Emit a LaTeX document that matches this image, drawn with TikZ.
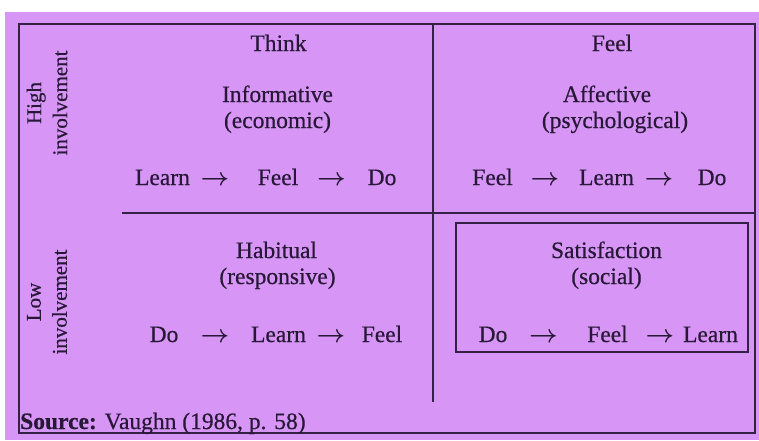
\documentclass[tikz,border=0pt]{standalone}
\usepackage{bm}
\usepackage{fontspec}
\setmainfont{Liberation Serif}[FakeBold=0.5]
\definecolor{bgpurple}{RGB}{215,150,245}
\definecolor{ink}{RGB}{40,24,56}
\definecolor{rulecol}{RGB}{52,34,70}
\newcommand{\rarrow}{$\bm{\rightarrow}$}
\begin{document}
\begin{tikzpicture}[x=1pt,y=-1pt,
  lbl/.style={font=\fontsize{23.5}{26}\selectfont, text=ink, inner sep=0pt, anchor=base},
  arr/.style={lbl},
  side/.style={font=\fontsize{21}{26}\selectfont, text=ink, inner sep=0pt, rotate=90, align=center},
  frameline/.style={draw=rulecol, line width=1.4pt},
  divline/.style={draw=rulecol, line width=2.3pt},
  boxline/.style={draw=rulecol, line width=2.3pt}]
\useasboundingbox (0,0) rectangle (759,440);
\fill[white] (0,0) rectangle (759,440);
\fill[bgpurple] (5,12) rectangle (759,440);
% outer frame
\draw[frameline] (19,24) rectangle (755,433);
% dividers
\coordinate (vtop) at (433,24);
\coordinate (vbot) at (433,402);
\coordinate (hleft) at (122,213);
\coordinate (hright) at (755,213);
\draw[divline] (vtop) -- (vbot);
\draw[divline] (hleft) -- (hright);
% satisfaction box
\draw[boxline] (456,223) rectangle (748,352);

% side labels
\node[side] (high) at (47,103) {High\\involvement};
\node[side] (low) at (47,302) {Low\\involvement};

% headers
\node[lbl] (think) at (278.5,51) {Think};
\node[lbl] (feelh) at (612,51) {Feel};

% quadrant titles
\node[lbl] (inf) at (277.5,102) {Informative};
\node[lbl] (eco) at (277.5,128) {(economic)};
\node[lbl] (aff) at (607,102) {Affective};
\node[lbl] (psy) at (615,128) {(psychological)};
\node[lbl] (hab) at (276.5,258) {Habitual};
\node[lbl] (res) at (277.5,284) {(responsive)};
\node[lbl] (sat) at (606.5,258) {Satisfaction};
\node[lbl] (soc) at (606.5,284) {(social)};

% row 1 left
\node[lbl] (a1) at (162.5,185) {Learn};
\node[arr] (a1x) at (215,185) {\rarrow};
\node[lbl] (a2) at (278,185) {Feel};
\node[arr] (a2x) at (331.5,185) {\rarrow};
\node[lbl] (a3) at (382,185) {Do};
% row 1 right
\node[lbl] (b1) at (492.5,185) {Feel};
\node[arr] (b1x) at (545,185) {\rarrow};
\node[lbl] (b2) at (606.5,185) {Learn};
\node[arr] (b2x) at (659,185) {\rarrow};
\node[lbl] (b3) at (712,185) {Do};
% row 2 left
\node[lbl] (c1) at (164,342) {Do};
\node[arr] (c1x) at (215,342) {\rarrow};
\node[lbl] (c2) at (278.5,342) {Learn};
\node[arr] (c2x) at (331,342) {\rarrow};
\node[lbl] (c3) at (382,342) {Feel};
% row 2 right
\node[lbl] (d1) at (493,342) {Do};
\node[arr] (d1x) at (543.5,342) {\rarrow};
\node[lbl] (d2) at (607.5,342) {Feel};
\node[arr] (d2x) at (660,342) {\rarrow};
\node[lbl] (d3) at (710.5,342) {Learn};

% source
\node[lbl, anchor=base west] (src) at (20,429) {\textbf{Source:} Vaughn (1986, p. 58)};
\end{tikzpicture}
\end{document}
